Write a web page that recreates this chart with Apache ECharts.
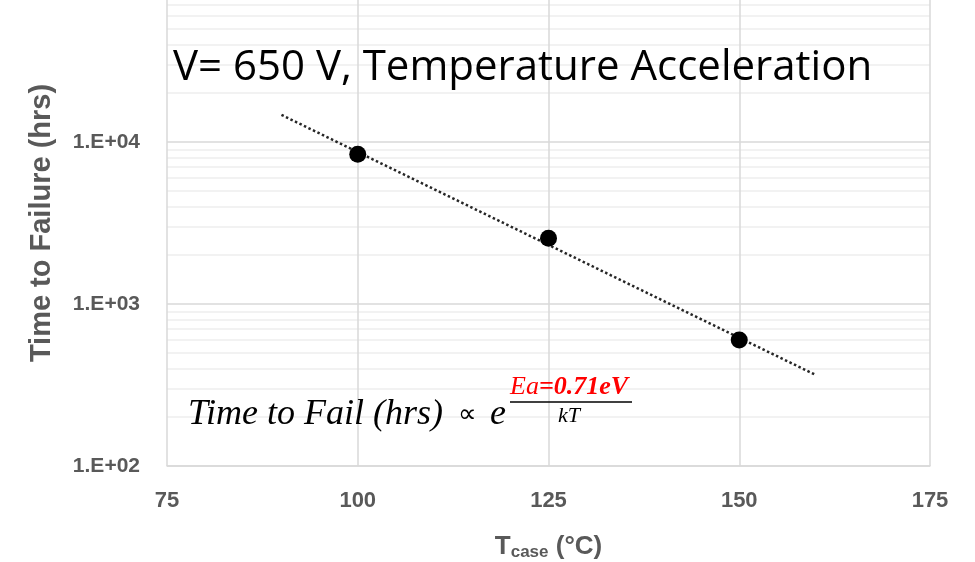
<!DOCTYPE html>
<html>
<head>
<meta charset="utf-8">
<script src="https://cdn.jsdelivr.net/npm/echarts@6.0.0/dist/echarts.min.js"></script>
<style>
  html, body { margin: 0; padding: 0; background: #fff; }
  #chart { width: 975px; height: 562px; }
</style>
</head>
<body>
<div id="chart"></div>
<script>
// measured points
var tempC = [100, 125, 150];
var hours = [8400, 2550, 600];
// exponential trendline ends (straight on log axis)
var trendX = [90, 160];
var trendY = [14700, 365];

var xTicks = [75, 100, 125, 150, 175];
var yMin = 100, yMax = 100000;

var grey = '#595959';
var labelFont = 'Liberation Sans';
var mathFont = 'Liberation Serif';

var myChart = echarts.init(document.getElementById('chart'));

function expLabel(v) {
  var p = Math.round(Math.log10(v));
  return '1.E+' + (p < 10 ? '0' + p : p);
}

function plainText(extra) {
  var s = { stroke: 'none', lineWidth: 0 };
  for (var k in extra) s[k] = extra[k];
  return s;
}

function mathText(left, top, text, size, upright) {
  return {
    type: 'text', left: left, top: top, z: 100,
    style: plainText({ text: text, fill: '#000', fontFamily: mathFont, fontStyle: upright ? 'normal' : 'italic', fontSize: size })
  };
}

option = {
  animation: false,
  backgroundColor: '#fff',
  // top is negative: the reference is cropped just under 1E+05
  grid: { left: 167, right: 45, top: -20, bottom: 96, outerBoundsMode: 'none', containLabel: false },
  xAxis: {
    type: 'value',
    min: xTicks[0],
    max: xTicks[xTicks.length - 1],
    interval: 25,
    axisLine: { show: true, lineStyle: { color: '#d9d9d9', width: 1.5 } },
    axisTick: { show: false },
    axisLabel: { color: grey, fontFamily: labelFont, fontWeight: 'bold', fontSize: 22, margin: 24 },
    splitLine: { show: true, lineStyle: { color: '#d9d9d9', width: 1.5 } },
    name: '{t|T}{s|case}{t| (°C)}',
    nameLocation: 'middle',
    nameGap: 66,
    nameTextStyle: {
      rich: {
        t: { color: grey, fontFamily: labelFont, fontWeight: 'bold', fontSize: 26 },
        s: { color: grey, fontFamily: labelFont, fontWeight: 'bold', fontSize: 17, padding: [12, 0, 0, 0] }
      }
    }
  },
  yAxis: {
    type: 'log',
    logBase: 10,
    min: yMin,
    max: yMax,
    axisLine: { show: false },
    axisTick: { show: false },
    minorTick: { show: false, splitNumber: 9 },
    axisLabel: { color: grey, fontFamily: labelFont, fontWeight: 'bold', fontSize: 21, margin: 27, formatter: expLabel },
    splitLine: { show: true, lineStyle: { color: '#d9d9d9', width: 1.5 } },
    minorSplitLine: { show: true, lineStyle: { color: '#eeeeee', width: 1.5 } },
    name: 'Time to Failure (hrs)',
    nameLocation: 'middle',
    nameRotate: 90,
    nameGap: 111,
    nameTextStyle: { color: grey, fontFamily: labelFont, fontWeight: 'bold', fontSize: 29 }
  },
  series: [
    {
      type: 'line',
      data: trendX.map(function (x, i) { return [x, trendY[i]]; }),
      showSymbol: false,
      lineStyle: { color: '#262626', width: 2.5, type: [2.5, 2.5] },
      z: 2
    },
    {
      type: 'scatter',
      data: tempC.map(function (x, i) { return [x, hours[i]]; }),
      symbol: 'circle',
      symbolSize: 17,
      itemStyle: { color: '#000', opacity: 1 },
      z: 3
    }
  ],
  graphic: [
    {
      type: 'text', left: 173, top: 47, z: 100,
      style: plainText({ text: 'V= 650 V, Temperature Acceleration', fill: '#000', fontFamily: 'Open Sans', fontSize: 42 })
    },
    mathText(188, 397, 'Time to Fail (hrs)', 36),
    mathText(458, 402, '∝', 26, true),
    mathText(490, 397, 'e', 36),
    {
      type: 'text', left: 510, top: 374, z: 100,
      style: plainText({ text: '{a|Ea}{b|=0.71eV}', rich: {
        a: { fill: '#ff0000', fontFamily: mathFont, fontStyle: 'italic', fontSize: 26 },
        b: { fill: '#ff0000', fontFamily: mathFont, fontStyle: 'italic', fontWeight: 'bold', fontSize: 26 }
      } })
    },
    {
      type: 'line', z: 100, shape: { x1: 510, y1: 402, x2: 632, y2: 402 },
      style: { stroke: '#000', lineWidth: 1.5 }
    },
    mathText(558, 405, 'kT', 22)
  ]
};

if (option && typeof option === "object") {
  myChart.setOption(option, true);
}
</script>
</body>
</html>
